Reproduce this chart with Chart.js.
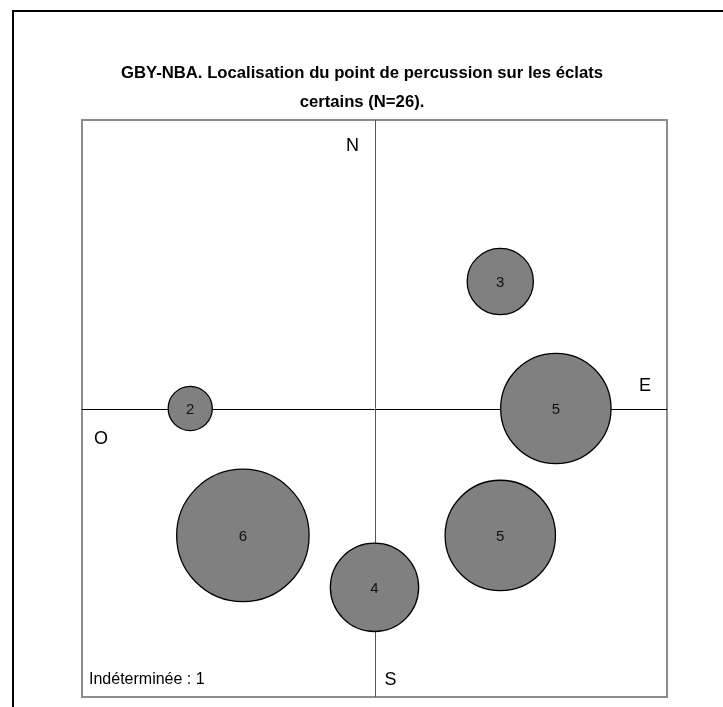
<!DOCTYPE html>
<html>
<head>
<meta charset="utf-8">
<script src="https://cdn.jsdelivr.net/npm/chart.js@4.4.0/dist/chart.umd.min.js"></script>
<style>
  html, body { margin: 0; padding: 0; background: #fff; }
  #wrap { width: 723px; height: 707px; }
</style>
</head>
<body>
<div id="wrap"><canvas id="impactChart"></canvas></div>
<script>
const titleLines = ['GBY-NBA. Localisation du point de percussion sur les éclats', 'certains (N=26).'];
const bubbleX = [0.43, 0.62, -0.63, -0.45, 0, 0.43];
const bubbleY = [0.44, 0, 0, -0.44, -0.62, -0.44];
const counts = [3, 5, 2, 6, 4, 5];
const compassLabels = { north: 'N', east: 'E', south: 'S', west: 'O' };
const undeterminedLabel = 'Indéterminée : 1';

const FONT = 'Arial, "Liberation Sans", sans-serif';

const decorPlugin = {
  id: 'decor',
  beforeDatasetsDraw(chart) {
    const { ctx, chartArea: a, scales } = chart;
    const x0 = scales.x.getPixelForValue(0);
    const y0 = scales.y.getPixelForValue(0);
    ctx.save();
    // outer frame (cropped on the right and bottom)
    ctx.strokeStyle = '#000';
    ctx.lineWidth = 2;
    ctx.beginPath();
    ctx.moveTo(13, chart.height);
    ctx.lineTo(13, 11);
    ctx.lineTo(chart.width, 11);
    ctx.stroke();
    // title
    ctx.fillStyle = '#000';
    ctx.font = 'bold 16.7px ' + FONT;
    ctx.textAlign = 'center';
    ctx.textBaseline = 'middle';
    titleLines.forEach((line, i) => ctx.fillText(line, 362, 73 + i * 29));
    // plot border
    ctx.strokeStyle = '#8c8c8c';
    ctx.lineWidth = 2;
    ctx.strokeRect(a.left, a.top, a.right - a.left, a.bottom - a.top);
    // axes through the centre
    ctx.lineWidth = 1;
    ctx.strokeStyle = '#000';
    ctx.beginPath();
    ctx.moveTo(a.left, Math.round(y0) + 0.5);
    ctx.lineTo(a.right, Math.round(y0) + 0.5);
    ctx.stroke();
    ctx.strokeStyle = '#555';
    ctx.beginPath();
    ctx.moveTo(Math.round(x0) + 0.5, a.top);
    ctx.lineTo(Math.round(x0) + 0.5, a.bottom);
    ctx.stroke();
    // compass labels
    ctx.fillStyle = '#000';
    ctx.font = '18px ' + FONT;
    ctx.fillText(compassLabels.north, x0 - 22, a.top + 26);
    ctx.fillText(compassLabels.east, a.right - 22, y0 - 22);
    ctx.fillText(compassLabels.west, a.left + 19, y0 + 31);
    ctx.fillText(compassLabels.south, x0 + 16, a.bottom - 17);
    ctx.font = '16px ' + FONT;
    ctx.textAlign = 'left';
    ctx.fillText(undeterminedLabel, a.left + 7, a.bottom - 17);
    ctx.restore();
  },
  afterDatasetsDraw(chart) {
    const { ctx } = chart;
    const meta = chart.getDatasetMeta(0);
    ctx.save();
    ctx.fillStyle = '#111';
    ctx.font = '15px ' + FONT;
    ctx.textAlign = 'center';
    ctx.textBaseline = 'middle';
    meta.data.forEach((pt, i) => ctx.fillText(String(counts[i]), pt.x, pt.y + 1));
    ctx.restore();
  }
};

new Chart(document.getElementById('impactChart'), {
  type: 'bubble',
  data: {
    datasets: [{
      data: counts.map((c, i) => ({ x: bubbleX[i], y: bubbleY[i], v: c })),
      backgroundColor: '#808080',
      borderColor: '#000',
      borderWidth: 1.3,
      radius: (ctx) => {
        const a = ctx.chart.chartArea;
        const w = a ? a.right - a.left : 585;
        return ctx.raw ? ctx.raw.v * w / 53 : 0;
      },
      clip: false
    }]
  },
  options: {
    responsive: true,
    maintainAspectRatio: false,
    animation: false,
    events: [],
    layout: { autoPadding: false, padding: { left: 82, right: 56, top: 120, bottom: 10 } },
    plugins: {
      legend: { display: false },
      tooltip: { enabled: false },
      title: { display: false }
    },
    scales: {
      x: { type: 'linear', min: -1, max: 1, display: false },
      y: { type: 'linear', min: -1, max: 1, display: false }
    }
  },
  plugins: [decorPlugin]
});
</script>
</body>
</html>
